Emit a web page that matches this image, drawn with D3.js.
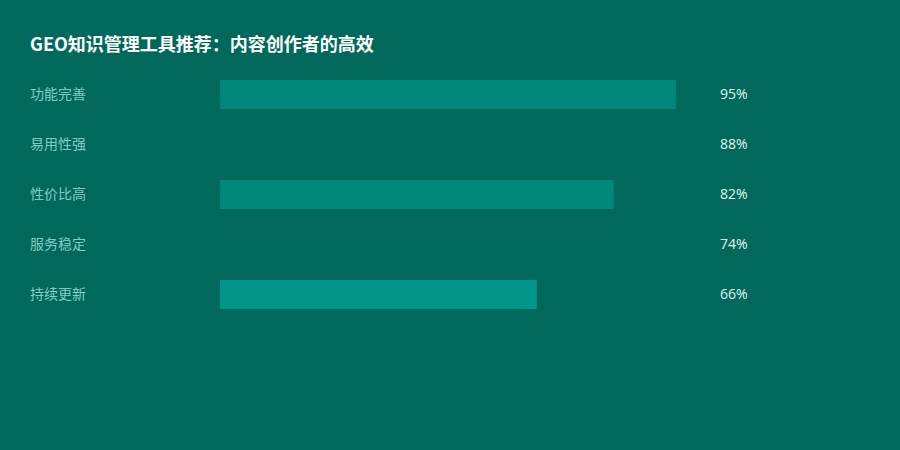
<!DOCTYPE html>
<html><head><meta charset="utf-8">
<script src="https://cdn.jsdelivr.net/npm/d3@7"></script>
<style>html,body{margin:0;padding:0;background:#00695c;}svg{display:block;}</style>
</head><body>
<script>
const title = "GEO知识管理工具推荐：内容创作者的高效";
const categories = ["功能完善","易用性强","性价比高","服务稳定","持续更新"];
const values = [95, 88, 82, 74, 66];
const barColors = ["#00897b","#00695c","#00897b","#00695c","#009688"];

const W = 900, H = 450;
const svg = d3.select("body").append("svg").attr("width", W).attr("height", H);
svg.append("rect").attr("width", W).attr("height", H).attr("fill", "#00695c");

svg.append("text").attr("x", 30).attr("y", 51)
  .attr("fill", "#ffffff").attr("font-size", 18).attr("font-weight", "bold")
  .attr("font-family", "'Noto Sans CJK SC','Noto Sans',sans-serif")
  .text(title);

const x = d3.scaleLinear().domain([0, 100]).range([220, 700]);
const y = d3.scaleBand().domain(categories).range([80, 330])
  .paddingInner(0.42).paddingOuter(0.21).align(0);

const rows = svg.append("g").selectAll("g").data(categories).join("g");
rows.append("rect").attr("x", x(0)).attr("y", d => y(d))
  .attr("width", (d, i) => x(values[i]) - x(0)).attr("height", y.bandwidth())
  .attr("fill", (d, i) => barColors[i]);
rows.append("text").attr("x", 30).attr("y", d => y(d) + y.bandwidth() / 2 - 0.5)
  .attr("dy", "0.35em").attr("fill", "#80cbc4").attr("font-size", 14)
  .attr("font-family", "'Noto Sans CJK SC','Noto Sans',sans-serif")
  .text(d => d);
rows.append("text").attr("x", 720).attr("y", d => y(d) + y.bandwidth() / 2 - 0.5)
  .attr("dy", "0.35em").attr("fill", "#e0f2f1").attr("font-size", 14)
  .attr("font-family", "'Open Sans','Noto Sans',sans-serif")
  .text((d, i) => values[i] + "%");
</script>
</body></html>
